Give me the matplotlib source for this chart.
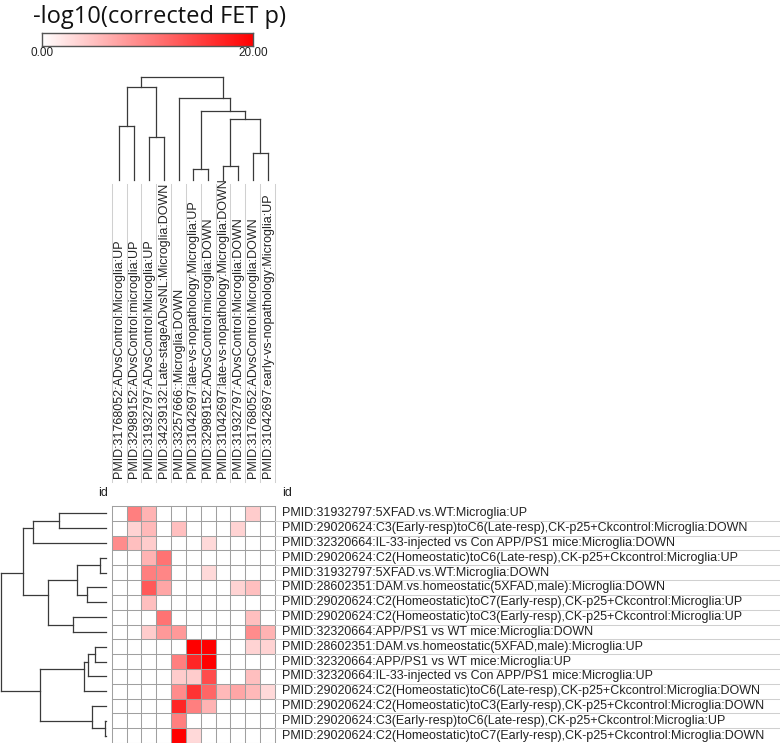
import matplotlib
matplotlib.use("Agg")
import matplotlib.pyplot as plt
import numpy as np
from matplotlib.colors import LinearSegmentedColormap

W, H = 780, 743

col_labels = [
    "PMID:31768052:ADvsControl:Microglia:UP",
    "PMID:32989152:ADvsControl:microglia:UP",
    "PMID:31932797:ADvsControl:Microglia:UP",
    "PMID:34239132:Late-stageADvsNL:Microglia:DOWN",
    "PMID:33257666::Microglia:DOWN",
    "PMID:31042697:late-vs-nopathology:Microglia:UP",
    "PMID:32989152:ADvsControl:microglia:DOWN",
    "PMID:31042697:late-vs-nopathology:Microglia:DOWN",
    "PMID:31932797:ADvsControl:Microglia:DOWN",
    "PMID:31768052:ADvsControl:Microglia:DOWN",
    "PMID:31042697:early-vs-nopathology:Microglia:UP",
]

row_labels = [
    "PMID:31932797:5XFAD.vs.WT:Microglia:UP",
    "PMID:29020624:C3(Early-resp)toC6(Late-resp),CK-p25+Ckcontrol:Microglia:DOWN",
    "PMID:32320664:IL-33-injected vs Con APP/PS1 mice:Microglia:DOWN",
    "PMID:29020624:C2(Homeostatic)toC6(Late-resp),CK-p25+Ckcontrol:Microglia:UP",
    "PMID:31932797:5XFAD.vs.WT:Microglia:DOWN",
    "PMID:28602351:DAM.vs.homeostatic(5XFAD,male):Microglia:DOWN",
    "PMID:29020624:C2(Homeostatic)toC7(Early-resp),CK-p25+Ckcontrol:Microglia:UP",
    "PMID:29020624:C2(Homeostatic)toC3(Early-resp),CK-p25+Ckcontrol:Microglia:UP",
    "PMID:32320664:APP/PS1 vs WT mice:Microglia:DOWN",
    "PMID:28602351:DAM.vs.homeostatic(5XFAD,male):Microglia:UP",
    "PMID:32320664:APP/PS1 vs WT mice:Microglia:UP",
    "PMID:32320664:IL-33-injected vs Con APP/PS1 mice:Microglia:UP",
    "PMID:29020624:C2(Homeostatic)toC6(Late-resp),CK-p25+Ckcontrol:Microglia:DOWN",
    "PMID:29020624:C2(Homeostatic)toC3(Early-resp),CK-p25+Ckcontrol:Microglia:DOWN",
    "PMID:29020624:C3(Early-resp)toC6(Late-resp),CK-p25+Ckcontrol:Microglia:UP",
    "PMID:29020624:C2(Homeostatic)toC7(Early-resp),CK-p25+Ckcontrol:Microglia:DOWN",
]

# -log10(corrected FET p), rows x columns
values = [
    [0, 10, 6, 0, 0, 0, 0, 0, 0, 4, 0],
    [0, 3.5, 5.5, 0, 5, 0, 0, 0, 3.5, 0, 0],
    [9, 5, 4, 0, 0, 0, 3, 0, 0, 0, 0],
    [0, 0, 6, 11, 0, 0, 0, 0, 0, 0, 0],
    [0, 0, 10, 9.5, 0, 0, 3, 0, 0, 0, 0],
    [0, 0, 13, 7, 0, 0, 0, 0, 3.5, 5, 0],
    [0, 0, 5, 0, 0, 0, 0, 0, 0, 0, 0],
    [0, 0, 0, 11, 0, 0, 0, 0, 0, 5, 0],
    [0, 0, 4, 8, 8, 0, 0, 0, 0, 9, 6],
    [0, 0, 0, 0, 0, 20, 20, 0, 0, 3.5, 3.5],
    [0, 0, 0, 0, 10, 17, 20, 0, 0, 0, 0],
    [0, 0, 0, 0, 4, 4, 14, 0, 0, 5, 0],
    [0, 0, 0, 0, 9, 16, 12, 5.5, 7, 5.5, 3],
    [0, 0, 0, 0, 17, 10, 6, 0, 0, 0, 0],
    [0, 0, 0, 0, 10, 0, 0, 0, 0, 0, 0],
    [0, 0, 0, 0, 20, 3, 0, 0, 0, 0, 0],
]

# dendrograms: (left, right, merge height), leaves = display index
col_tree = (((0, 1, 54), (2, 3, 43), 93),
            (4, ((5, 6, 11), ((7, 8, 14), (9, 10, 27), 61), 69), 82), 103)
row_tree = ((((0, 1, 47), 2, 73),
             ((((3, 4, 5.5), (5, 6, 18.7), 29.3), (7, 8, 32.7), 57.7)), 83.3),
            (((((9, 10, 11), 11, 17.7), 12, 22), (13, (14, 15, 1), 14.3), 66)), 105)

vmin, vmax = 0, 20
cmap = LinearSegmentedColormap.from_list("wr", ["#ffffff", "#ff0000"])

fig = plt.figure(figsize=(W / 100, H / 100), dpi=100)
fig.patch.set_facecolor("white")


def px_axes(x0, y0, x1, y1):
    ax = fig.add_axes([x0 / W, 1 - y1 / H, (x1 - x0) / W, (y1 - y0) / H])
    ax.set_axis_off()
    return ax


def draw_tree(ax, node, horizontal, color="#3a3a3a"):
    # node position = middle of its leaf span
    if not isinstance(node, tuple):
        p = node + 0.5
        return p, 0.0, p, p
    a, b, h = node
    pa, ha, la, ua = draw_tree(ax, a, horizontal, color)
    pb, hb, lb, ub = draw_tree(ax, b, horizontal, color)
    segs = [([pa, pa], [ha, h]), ([pb, pb], [hb, h]), ([pa, pb], [h, h])]
    for p, q in segs:
        if horizontal:
            ax.plot(p, q, color=color, lw=0.9, clip_on=False, solid_capstyle="projecting")
        else:
            ax.plot(q, p, color=color, lw=0.9, clip_on=False, solid_capstyle="projecting")
    lo, hi = min(la, lb), max(ua, ub)
    return (lo + hi) / 2, h, lo, hi


nr, nc = len(row_labels), len(col_labels)
hx0, hx1, hy0, hy1 = 111.7, 275, 506, 743

# heatmap
axh = px_axes(hx0, hy0, hx1, hy1)
axh.pcolormesh(np.array(values), cmap=cmap, vmin=vmin, vmax=vmax)
for i in range(nc + 1):
    axh.axvline(i, color="#a0a0a0", lw=0.75, clip_on=False)
for j in range(nr + 1):
    axh.axhline(j, color="#a0a0a0", lw=0.75, clip_on=False)
axh.set_xlim(0, nc)
axh.set_ylim(nr, 0)

# column dendrogram
axc = px_axes(hx0, 77, hx1, 180)
draw_tree(axc, col_tree, True)
axc.set_xlim(0, nc)
axc.set_ylim(0, 103)

# row dendrogram
axr = px_axes(1, hy0, 106, hy1)
draw_tree(axr, row_tree, False)
axr.set_xlim(105, 0)
axr.set_ylim(nr, 0)

lab_font = dict(family="Liberation Sans", fontsize=9.0, color="#222222")

# column labels
axl = px_axes(hx0, 184, hx1, 482)
axl.set_xlim(0, nc)
axl.set_ylim(0, 1)
for i, lab in enumerate(col_labels):
    axl.text(i + 0.5, 0.012, lab, rotation=90, ha="center", va="bottom", **lab_font)
for i in range(nc + 1):
    axl.plot([i, i], [0, 1], color="#d0d0d0", lw=0.75, clip_on=False)

# row labels
axrl = px_axes(hx1, hy0, W, hy1)
axrl.set_xlim(0, W - hx1)
axrl.set_ylim(nr, 0)
for j, lab in enumerate(row_labels):
    axrl.text(7, j + 0.5, lab, ha="left", va="center", **lab_font)
for j in range(1, nr):
    axrl.plot([0, W - hx1], [j, j], color="#d0d0d0", lw=0.75)

fig.text(103 / W, 1 - 493 / H, "id", ha="center", va="center", **lab_font)
fig.text(282 / W, 1 - 493 / H, "id", ha="left", va="center", **lab_font)

# colour bar
axb = fig.add_axes([42 / W, 1 - 46 / H, 211 / W, 13 / H])
axb.imshow(np.linspace(vmin, vmax, 256)[None, :], aspect="auto", cmap=cmap,
           vmin=vmin, vmax=vmax)
axb.set_xticks([])
axb.set_yticks([])
for s in axb.spines.values():
    s.set_color("#555555")
    s.set_linewidth(1)
fig.text(42 / W, 1 - 53 / H, f"{vmin:.2f}", ha="center", va="center",
         family="Liberation Sans", fontsize=8.5, color="#222222")
fig.text(253 / W, 1 - 53 / H, f"{vmax:.2f}", ha="center", va="center",
         family="Liberation Sans", fontsize=8.5, color="#222222")

fig.text(33 / W, 1 - 17 / H, "-log10(corrected FET p)", ha="left", va="center",
         family="Open Sans", fontsize=17, color="#111111")

fig.savefig("out.png", dpi=100)
